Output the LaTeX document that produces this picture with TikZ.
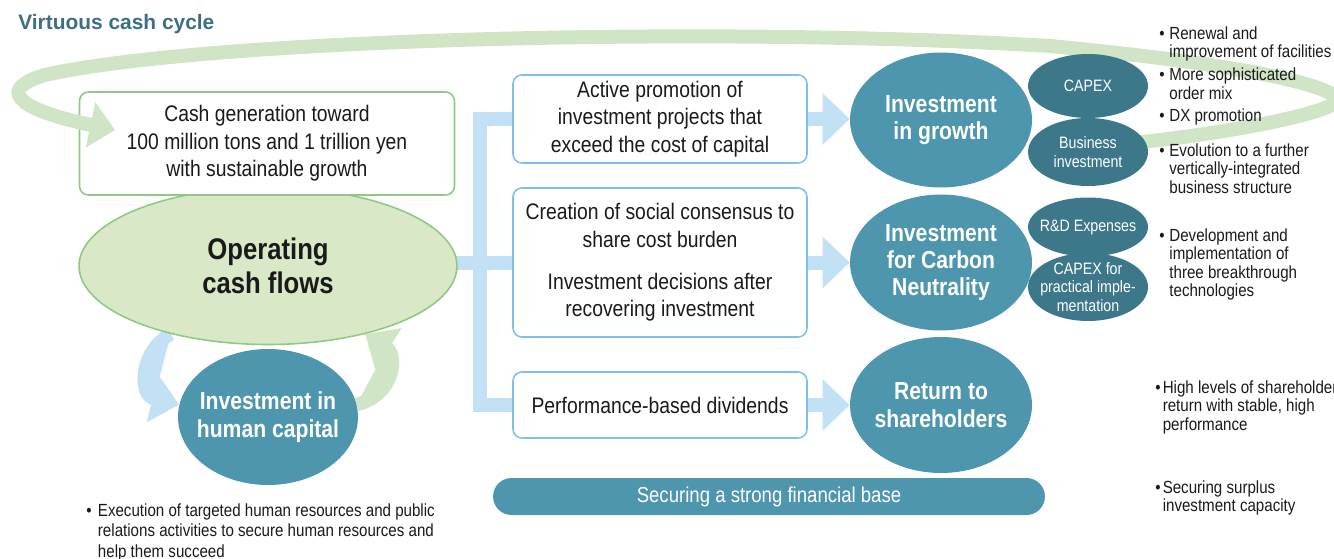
\documentclass[tikz,border=0pt]{standalone}
\usepackage{fontspec}
\setmainfont{Liberation Sans}[FakeStretch=0.86]
\newfontfamily\titlefont{Liberation Sans}
\usetikzlibrary{arrows.meta, shapes.geometric, backgrounds, calc}
\definecolor{ink}      {HTML}{1A1A1A}
\definecolor{tealmid}  {HTML}{4D96AD}
\definecolor{tealdark} {HTML}{3C7889}
\definecolor{headline} {HTML}{3D6F82}
\definecolor{greenline}{HTML}{8FC983}
\definecolor{greensoft}{HTML}{D9E8C7}
\definecolor{loopgreen}{HTML}{CFE5C5}
\definecolor{blueline} {HTML}{7FC0EA}
\definecolor{bandblue} {HTML}{C3E1F5}
\tikzset{
  cashbox/.style   = {draw=greenline, line width=0.9pt, rounded corners=5pt,
                      fill=white, minimum width=7.5cm, minimum height=2.06cm,
                      align=center, text=ink, font=\fontsize{12.8}{15.6}\selectfont},
  planbox/.style   = {cashbox, draw=blueline, minimum width=5.88cm},
  flowoval/.style  = {ellipse, draw=greenline, line width=0.9pt, fill=greensoft,
                      minimum width=7.56cm, minimum height=3.14cm, inner sep=0pt,
                      align=center, text=ink, font=\fontsize{17}{19}\selectfont\bfseries},
  bigoval/.style   = {ellipse, fill=tealmid, text=white, inner xsep=-0.3cm,
                      inner ysep=0pt, align=center, minimum width=3.64cm,
                      font=\fontsize{14}{15.6}\selectfont\bfseries},
  smalloval/.style = {ellipse, fill=tealdark, text=white, inner xsep=-0.3cm,
                      inner ysep=-0.15cm, align=center, minimum width=2.4cm,
                      font=\fontsize{9.4}{10.5}\selectfont},
  basebar/.style   = {fill=tealmid, text=white, rounded corners=0.37cm,
                      minimum width=11.04cm, minimum height=0.74cm,
                      font=\fontsize{12.3}{14}\selectfont},
  notes/.style     = {anchor=base west, inner sep=0pt, text=ink,
                      font=\fontsize{10}{10.6}\selectfont},
  band/.style      = {draw=bandblue, line width=0.28cm},
  bandarr/.style   = {band, -{Triangle[length=0.54cm, width=1cm]}},
  loopband/.style  = {draw=loopgreen, line width=0.28cm,
                      -{Triangle[length=0.5cm, width=0.9cm]}},
  cyclearr/.style  = {line width=0.27cm, -{Triangle[length=0.55cm, width=0.95cm]}},
}

\begin{document}
\begin{tikzpicture}[x=0.02cm, y=-0.02cm]
  \useasboundingbox (0,0) rectangle (1334,558);

  \node[anchor=base west, inner sep=0pt, text=headline,
        font=\titlefont\fontsize{11.9}{14}\selectfont\bfseries] (title) at (18,29.5)
    {Virtuous cash cycle};

  % left column
  \node[flowoval] (ocf) at (268,266) {Operating\\cash flows};
  \node[cashbox] (cash) at (267,143.5)
    {Cash generation toward\\100 million tons and 1 trillion yen\\with sustainable growth};
  \node[bigoval, minimum width=3.6cm, minimum height=2.72cm] (hc) at (268,417)
    {Investment in\\human capital};

  % middle column
  \node[planbox, minimum height=1.76cm] (promo) at (660,119)
    {Active promotion of\\investment projects that\\exceed the cost of capital};
  \node[planbox, minimum height=2.98cm] (consensus) at (660,262.5)
    {Creation of social consensus to\\share cost burden\\[8.5pt]Investment decisions after\\recovering investment};
  \node[planbox, minimum height=1.32cm] (dividend) at (660,405)
    {Performance-based dividends};

  % right column
  \node[bigoval, minimum height=2.7cm] (growth) at (941,120) {Investment\\in growth};
  \node[bigoval, minimum height=2.72cm] (carbon) at (941,262.5)
    {Investment\\for Carbon\\Neutrality};
  \node[bigoval, minimum height=2.72cm] (return) at (941,405)
    {Return to\\shareholders};
  \node[basebar] (finbase) at (769,496.5) {Securing a strong financial base};

  % blue flows and human capital cycle
  \begin{scope}[on background layer]
    \coordinate (spine) at (480,262.5);
    \draw[band] (ocf.center |- consensus.west) -- (consensus.west);
    \draw[band] (promo.west) -| (spine |- dividend.west) -- (dividend.west);
    \draw[bandarr] (promo.east) -- (promo.east -| growth.west);
    \draw[bandarr] (consensus.east) -- (carbon.west);
    \draw[bandarr] (dividend.east) -- (return.west);
    \draw[cyclearr, draw=bandblue, fill=bandblue]
      (ocf.215) .. controls (140,350) and (138,395) .. (hc.172);
    \draw[cyclearr, draw=loopgreen, fill=loopgreen]
      (hc.8) .. controls (395,395) and (398,355) .. (ocf.-35);
  \end{scope}

  % virtuous cycle loop
  \coordinate (loopstart) at (1110,145);
  \coordinate (loopend) at (115,130);
  \draw[loopband] (loopstart) .. controls (1220,136) and (1337,112) .. (1337,100)
    .. controls (1337,88) and (1260,66) .. (1050,46)
    .. controls (700,25) and (200,40) .. (45,75)
    .. controls (0,88) and (10,108) .. (loopend);

  \node[smalloval, minimum height=1.28cm] (capex) at (1088,86) {CAPEX};
  \node[smalloval, minimum height=1.36cm] (bizinv) at (1088,152) {Business\\investment};
  \node[smalloval, minimum height=1.18cm] (rd) at (1088,227) {R\&D Expenses};
  \node[smalloval, minimum height=1.36cm] (capexcn) at (1088,287)
    {CAPEX for\\practical imple-\\mentation};

  % bullet notes
  \node[notes] (capexnotes) at (1159,39)
    {\begin{tabular}[t]{@{}l@{\hspace{2.7pt}}l@{}}
      \textbullet & Renewal and\\ & improvement of facilities\\[2.4pt]
      \textbullet & More sophisticated\\ & order mix\\[2.4pt]
      \textbullet & DX promotion
    \end{tabular}};
  \node[notes] (bizinvnotes) at (1159,156)
    {\begin{tabular}[t]{@{}l@{\hspace{2.7pt}}l@{}}
      \textbullet & Evolution to a further\\ & vertically-integrated\\ & business structure
    \end{tabular}};
  \node[notes] (rdnotes) at (1159,241)
    {\begin{tabular}[t]{@{}l@{\hspace{2.7pt}}l@{}}
      \textbullet & Development and\\ & implementation of\\ & three breakthrough\\ & technologies
    \end{tabular}};
  \node[notes] (returnnotes) at (1155,393)
    {\begin{tabular}[t]{@{}l@{\hspace{1.2pt}}l@{}}
      \textbullet & High levels of shareholder\\ & return with stable, high\\ & performance
    \end{tabular}};
  \node[notes] (finnotes) at (1155,493)
    {\begin{tabular}[t]{@{}l@{\hspace{1.2pt}}l@{}}
      \textbullet & Securing surplus\\ & investment capacity
    \end{tabular}};
  \node[notes, font=\fontsize{10}{11.9}\selectfont] (hcnotes) at (86,516)
    {\begin{tabular}[t]{@{}l@{\hspace{3.6pt}}l@{}}
      \textbullet & Execution of targeted human resources and public\\
      & relations activities to secure human resources and\\ & help them succeed
    \end{tabular}};

\end{tikzpicture}
\end{document}
